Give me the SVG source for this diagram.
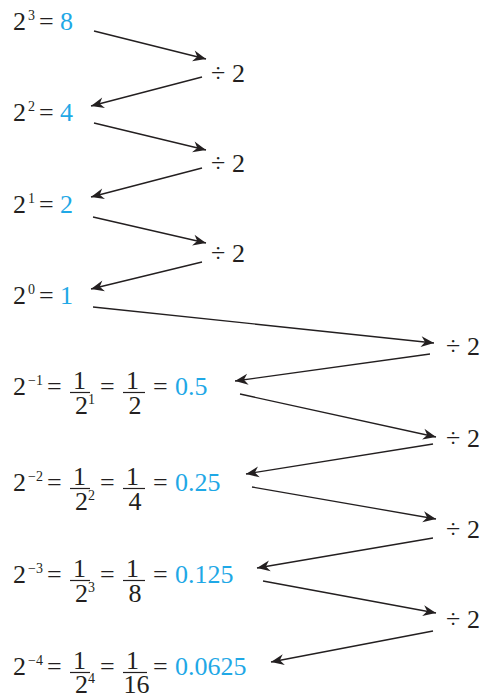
<svg xmlns="http://www.w3.org/2000/svg" width="483" height="696" viewBox="0 0 483 696">
<defs>
<style>
text{font-family:"Liberation Serif","Times New Roman",serif;font-size:26px;fill:#231f20}
.s{font-size:14px}
.b{fill:#1fa8e6}
.m{text-anchor:middle}
.bar{stroke:#231f20;stroke-width:1.2}
.c line{stroke:#231f20;stroke-width:1.3;marker-end:url(#ah)}
</style>
<marker id="ah" markerUnits="userSpaceOnUse" markerWidth="16" markerHeight="12" viewBox="-13 -6 15 12" refX="0" refY="0" orient="auto">
<path d="M0,0 L-13,-5.5 L-9,0 L-13,5.5 Z" fill="#231f20"/>
</marker>
</defs>
<rect width="483" height="696" fill="#fff"/>
<g id="row1"><text x="13" y="30">2</text><text class="s" x="28" y="20">3</text><text x="39" y="30">=</text><text class="b" x="60" y="30">8</text></g>
<g id="row2"><text x="13" y="121">2</text><text class="s" x="28" y="111">2</text><text x="39" y="121">=</text><text class="b" x="60" y="121">4</text></g>
<g id="row3"><text x="13" y="213">2</text><text class="s" x="28" y="203">1</text><text x="39" y="213">=</text><text class="b" x="60" y="213">2</text></g>
<g id="row4"><text x="13" y="304">2</text><text class="s" x="28" y="294">0</text><text x="39" y="304">=</text><text class="b" x="60" y="304">1</text></g>

<g id="row5">
<text x="13" y="395">2</text><text class="s" x="28" y="385">−1</text><text x="47" y="395">=</text>
<text class="m" x="79.5" y="389">1</text><line class="bar" x1="70" y1="392.5" x2="90" y2="392.5"/><text x="75" y="414">2</text><text class="s" x="88" y="404">1</text>
<text x="100" y="395">=</text>
<text class="m" x="132.5" y="389">1</text><line class="bar" x1="123" y1="392.5" x2="145" y2="392.5"/><text class="m" x="135" y="414">2</text>
<text x="153" y="395">=</text><text class="b" x="175" y="395">0.5</text>
</g>
<g id="row6">
<text x="13" y="491">2</text><text class="s" x="28" y="481">−2</text><text x="47" y="491">=</text>
<text class="m" x="79.5" y="485">1</text><line class="bar" x1="70" y1="488.5" x2="90" y2="488.5"/><text x="75" y="510">2</text><text class="s" x="88" y="500">2</text>
<text x="100" y="491">=</text>
<text class="m" x="132.5" y="485">1</text><line class="bar" x1="123" y1="488.5" x2="145" y2="488.5"/><text class="m" x="135" y="510">4</text>
<text x="153" y="491">=</text><text class="b" x="175" y="491">0.25</text>
</g>
<g id="row7">
<text x="13" y="583">2</text><text class="s" x="28" y="573">−3</text><text x="47" y="583">=</text>
<text class="m" x="79.5" y="577">1</text><line class="bar" x1="70" y1="580.5" x2="90" y2="580.5"/><text x="75" y="602">2</text><text class="s" x="88" y="592">3</text>
<text x="100" y="583">=</text>
<text class="m" x="132.5" y="577">1</text><line class="bar" x1="123" y1="580.5" x2="145" y2="580.5"/><text class="m" x="135" y="602">8</text>
<text x="153" y="583">=</text><text class="b" x="175" y="583">0.125</text>
</g>
<g id="row8">
<text x="13" y="675">2</text><text class="s" x="28" y="665">−4</text><text x="47" y="675">=</text>
<text class="m" x="79.5" y="669">1</text><line class="bar" x1="70" y1="672.5" x2="90" y2="672.5"/><text x="75" y="693">2</text><text class="s" x="88" y="683">4</text>
<text x="100" y="675">=</text>
<text class="m" x="132.5" y="669">1</text><line class="bar" x1="123" y1="672.5" x2="147" y2="672.5"/><text class="m" x="136.5" y="693">16</text>
<text x="153" y="675">=</text><text class="b" x="175" y="675">0.0625</text>
</g>

<g id="div1"><text x="211" y="82">÷</text><text x="232" y="82">2</text></g>
<g id="div2"><text x="211" y="172">÷</text><text x="232" y="172">2</text></g>
<g id="div3"><text x="211" y="262">÷</text><text x="232" y="262">2</text></g>
<g id="div4"><text x="446" y="355">÷</text><text x="467" y="355">2</text></g>
<g id="div5"><text x="446" y="447">÷</text><text x="467" y="447">2</text></g>
<g id="div6"><text x="446" y="538">÷</text><text x="467" y="538">2</text></g>
<g id="div7"><text x="446" y="628">÷</text><text x="467" y="628">2</text></g>

<g id="connectors" class="c">
<line x1="94" y1="31" x2="206" y2="59"/>
<line x1="202" y1="77" x2="91" y2="106"/>
<line x1="94" y1="123" x2="206" y2="150"/>
<line x1="202" y1="168" x2="91" y2="197"/>
<line x1="93" y1="217" x2="206" y2="243"/>
<line x1="202" y1="262" x2="91" y2="289"/>
<line x1="93" y1="307" x2="434" y2="343"/>
<line x1="430" y1="354" x2="235" y2="381"/>
<line x1="240" y1="394" x2="436" y2="437"/>
<line x1="433" y1="444" x2="246" y2="474"/>
<line x1="252" y1="487" x2="436" y2="519"/>
<line x1="433" y1="538" x2="257" y2="568"/>
<line x1="263" y1="581" x2="436" y2="613"/>
<line x1="433" y1="631" x2="271" y2="662"/>
</g>
</svg>
